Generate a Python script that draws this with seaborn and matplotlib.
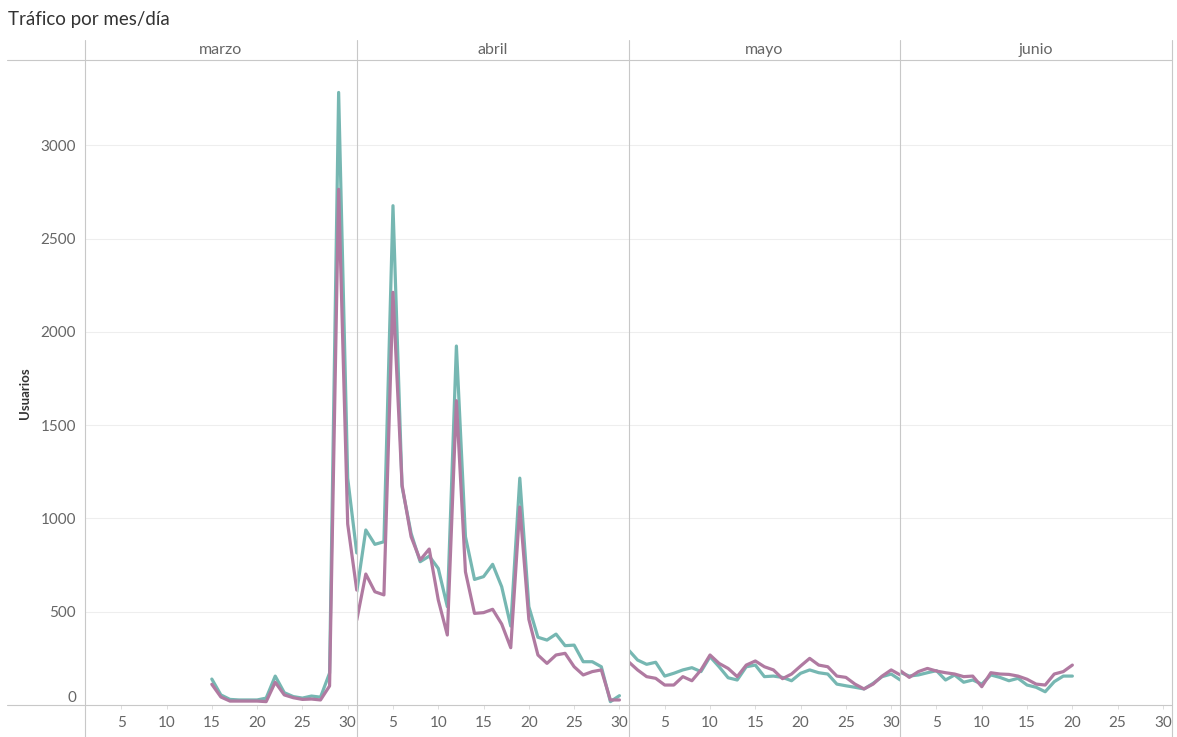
import matplotlib
matplotlib.use("Agg")
import matplotlib.pyplot as plt
import seaborn as sns
import pandas as pd
from matplotlib.lines import Line2D

# ---------------- data ----------------
meses = ["marzo", "abril", "mayo", "junio"]
series = ["Usuarios", "Usuarios nuevos"]

marzo_dias = list(range(15, 32))
marzo_usuarios = [139, 54, 30, 27, 27, 27, 37, 155, 66, 45, 37, 48, 42, 171, 3283, 1216, 815]
marzo_nuevos = [111, 43, 21, 21, 21, 21, 18, 122, 54, 39, 30, 32, 27, 102, 2764, 970, 616]

abril_dias = list(range(1, 31))
abril_usuarios = [607, 938, 861, 875, 2676, 1170, 920, 768, 798, 732, 527, 1924, 902, 673, 688,
                  754, 634, 423, 1216, 527, 363, 348, 380, 318, 321, 232, 232, 205, 18, 50]
abril_nuevos = [455, 702, 607, 590, 2212, 1180, 902, 777, 836, 563, 375, 1631, 714, 491, 495,
                513, 434, 307, 1061, 459, 268, 223, 268, 277, 205, 161, 179, 188, 27, 27]

mayo_dias = list(range(1, 32))
mayo_usuarios = [295, 241, 218, 229, 155, 170, 188, 200, 179, 259, 205, 146, 134, 205, 214, 152,
                 155, 148, 130, 170, 188, 173, 166, 112, 103, 95, 86, 116, 152, 166, 134]
mayo_nuevos = [232, 188, 152, 143, 107, 107, 152, 130, 188, 268, 223, 196, 152, 214, 236, 205,
               188, 141, 166, 209, 250, 214, 205, 155, 148, 112, 86, 112, 155, 188, 161]

junio_dias = list(range(1, 21))
junio_usuarios = [175, 155, 161, 173, 184, 134, 161, 122, 134, 112, 161, 148, 130, 143, 107, 95,
                  71, 125, 155, 155]
junio_nuevos = [184, 148, 179, 196, 182, 173, 166, 152, 155, 98, 173, 166, 164, 155, 138, 112,
                107, 166, 179, 214]

y_ticks = [0, 500, 1000, 1500, 2000, 2500, 3000]
x_ticks = [5, 10, 15, 20, 25, 30]

rows = []
for mes, dias, a, b in [("marzo", marzo_dias, marzo_usuarios, marzo_nuevos),
                        ("abril", abril_dias, abril_usuarios, abril_nuevos),
                        ("mayo", mayo_dias, mayo_usuarios, mayo_nuevos),
                        ("junio", junio_dias, junio_usuarios, junio_nuevos)]:
    for d, va, vb in zip(dias, a, b):
        rows.append((mes, d, series[0], va))
        rows.append((mes, d, series[1], vb))
df = pd.DataFrame(rows, columns=["mes", "dia", "serie", "valor"])

palette = {series[0]: "#76b7b2", series[1]: "#b07aa1"}

# ---------------- figure ----------------
sns.set_theme(style="white")
plt.rcParams['font.family'] = ['Lato', 'DejaVu Sans']

W, H = 1177, 737
fig = plt.figure(figsize=(W / 100, H / 100), dpi=100)


def fx(px):
    return px / W


def fy(py):
    return 1 - py / H


left, right = 85, 1172
top, bottom = 60, 705
pw = (right - left) / 4
line_col = "#c8c8c8"
txt_col = "#666666"

for i, mes in enumerate(meses):
    ax = fig.add_axes([fx(left + i * pw), fy(bottom), fx(pw), (bottom - top) / H])
    d = df[df.mes == mes]
    sns.lineplot(data=d, x="dia", y="valor", hue="serie", hue_order=series,
                 palette=palette, linewidth=2.3, ax=ax, legend=False,
                 solid_joinstyle="round", solid_capstyle="round")
    ax.set_xlim(1, 31)
    ax.set_ylim(0, 3457)
    ax.set_yticks(y_ticks)
    ax.set_xticks(x_ticks)
    ax.set_xticklabels([str(t) for t in x_ticks])
    for s in ax.spines.values():
        s.set_visible(False)
    ax.set_axisbelow(True)
    ax.yaxis.grid(True, color="#eeeeee", linewidth=0.8)
    ax.xaxis.grid(False)
    ax.patch.set_alpha(0)
    ax.tick_params(axis="x", bottom=True, length=3, width=0.7, color="#dddddd",
                   labelcolor=txt_col, labelsize=11, pad=5)
    if i == 0:
        ax.tick_params(axis="y", left=False, length=0, labelleft=True, labelcolor=txt_col,
                       labelsize=11, pad=6.5)
        ax.set_yticklabels([str(t) for t in y_ticks])
        lbl0 = ax.get_yticklabels()[0]
        lbl0.set_va("bottom")
    else:
        ax.tick_params(axis="y", left=False, labelleft=False)
    ax.set_xlabel("")
    ax.set_ylabel("")
    fig.text(fx(left + i * pw + pw / 2), fy(50), mes, ha="center", va="center",
             color=txt_col, fontsize=11.5)

# frame lines (Tableau-like pane separators)
for py in (top, bottom):
    fig.add_artist(Line2D([fx(7), fx(right)], [fy(py), fy(py)], color=line_col,
                          linewidth=0.8, transform=fig.transFigure))
for i in range(5):
    px = left + i * pw
    fig.add_artist(Line2D([fx(px), fx(px)], [fy(40), fy(737)], color=line_col,
                          linewidth=0.8, transform=fig.transFigure))

fig.text(fx(8), fy(20), "Tráfico por mes/día", ha="left", va="center",
         color="#333333", fontsize=13.5)
fig.text(fx(25), fy(393), "Usuarios", rotation=90, ha="center", va="center",
         color="#333333", fontsize=9.5, fontweight="bold")

fig.savefig("out.png", dpi=100)
